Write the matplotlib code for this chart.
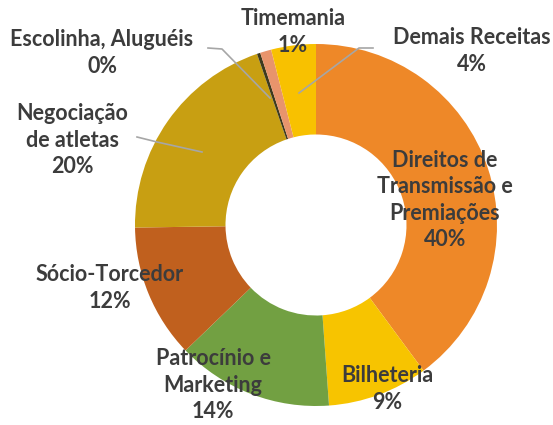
import matplotlib.pyplot as plt

# Receitas por origem (%), clockwise from 12 o'clock
labels = ['Direitos de\nTransmissão e\nPremiações', 'Bilheteria', 'Patrocínio e\nMarketing',
          'Sócio-Torcedor', 'Negociação\nde atletas', 'Escolinha, Aluguéis',
          'Timemania', 'Demais Receitas']
values = [40, 9, 14, 12, 20, 0.3, 1, 4]
pct_text = ['40%', '9%', '14%', '12%', '20%', '0%', '1%', '4%']
colors = ['#EE8828', '#F7C400', '#72A042', '#C0601E', '#C89F12', '#3E3A1E', '#E8946C', '#F8C100']

W, H = 553, 425
fig = plt.figure(figsize=(W / 100, H / 100), dpi=100)
ax = fig.add_axes([0, 0, 1, 1])

cx, cy, r = 316, H - 225, 181
ax.pie(values, colors=colors, startangle=90, counterclock=False,
       center=(cx, cy), radius=r, frame=True,
       wedgeprops=dict(width=r * 0.5, edgecolor='none'))
ax.set_xlim(0, W)
ax.set_ylim(0, H)
ax.set_aspect('equal')
ax.axis('off')

# label centres in pixel coordinates (x, y from top)
label_pos = [(445, 200), (387, 389), (213, 385), (110, 288),
             (72, 140), (102, 53), (293, 32), (472, 51)]

txt = dict(fontsize=15.5, fontweight='bold', color='#3C3C3C', family='Lato',
           ha='center', va='center', linespacing=1.33)
for lab, p, (x, y) in zip(labels, pct_text, label_pos):
    ax.text(x, H - y, lab + '\n' + p, **txt)

# leader lines
line_kw = dict(color='#A6A6A6', lw=1.2)
leaders = [
    [(208, 48), (222, 49), (270, 98)],   # Escolinha
    [(137, 137), (157, 142), (202, 152)],  # Negociação
    [(373, 48), (359, 48), (299, 93)],   # Demais Receitas
]
for pts in leaders:
    xs = [p[0] for p in pts]
    ys = [H - p[1] for p in pts]
    ax.plot(xs, ys, **line_kw)

fig.savefig('out.png', dpi=100)
